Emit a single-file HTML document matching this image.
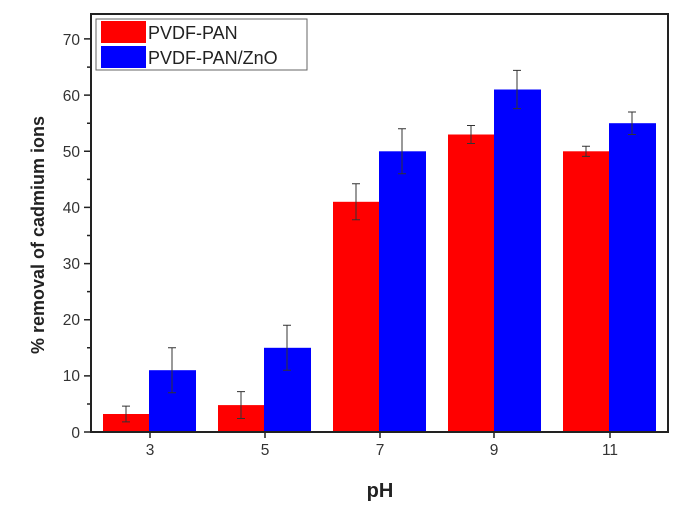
<!DOCTYPE html>
<html><head><style>
html,body{margin:0;padding:0;background:#fff;}
svg{display:block;font-family:"Liberation Sans",Arial,sans-serif;}
</style></head><body>
<svg width="692" height="511" viewBox="0 0 692 511" xmlns="http://www.w3.org/2000/svg">
<rect width="692" height="511" fill="#fff"/>
<g>
<rect x="103" y="414.0" width="46" height="18.0" fill="#ff0000"/>
<rect x="149" y="370.2" width="47" height="61.8" fill="#0000ff"/>
<rect x="218" y="405.1" width="46" height="26.9" fill="#ff0000"/>
<rect x="264" y="347.8" width="47" height="84.2" fill="#0000ff"/>
<rect x="333" y="201.8" width="46" height="230.2" fill="#ff0000"/>
<rect x="379" y="151.3" width="47" height="280.7" fill="#0000ff"/>
<rect x="448" y="134.5" width="46" height="297.5" fill="#ff0000"/>
<rect x="494" y="89.5" width="47" height="342.5" fill="#0000ff"/>
<rect x="563" y="151.3" width="46" height="280.7" fill="#ff0000"/>
<rect x="609" y="123.2" width="47" height="308.8" fill="#0000ff"/>
</g>
<g stroke="#333" stroke-width="1" fill="none">
<path d="M126 406.1V421.9M122 406.1H130M122 421.9H130"/>
<path d="M172 347.8V392.7M168 347.8H176M168 392.7H176"/>
<path d="M241 391.6V418.5M237 391.6H245M237 418.5H245"/>
<path d="M287 325.3V370.2M283 325.3H291M283 370.2H291"/>
<path d="M356 183.8V219.8M352 183.8H360M352 219.8H360"/>
<path d="M402 128.8V173.7M398 128.8H406M398 173.7H406"/>
<path d="M471 125.5V143.5M467 125.5H475M467 143.5H475"/>
<path d="M517 70.4V108.6M513 70.4H521M513 108.6H521"/>
<path d="M586 146.2V156.4M582 146.2H590M582 156.4H590"/>
<path d="M632 112.0V134.5M628 112.0H636M628 134.5H636"/>
</g>
<rect x="91" y="14" width="577" height="418" fill="none" stroke="#222" stroke-width="2"/>
<g stroke="#222" stroke-width="1.5">
<path d="M84 432H91M84 375.9H91M84 319.7H91M84 263.6H91M84 207.4H91M84 151.3H91M84 95.1H91M84 38.9H91"/>
<path d="M87 404H91M87 347.8H91M87 291.6H91M87 235.5H91M87 179.4H91M87 123.2H91M87 67.1H91"/>
<path d="M150 432V438M265 432V438M380 432V438M494 432V438M610 432V438"/>
</g>
<g fill="#333" font-size="15.5" text-anchor="end">
<text x="80" y="438">0</text>
<text x="80" y="381">10</text>
<text x="80" y="325">20</text>
<text x="80" y="269">30</text>
<text x="80" y="213">40</text>
<text x="80" y="157">50</text>
<text x="80" y="101">60</text>
<text x="80" y="45">70</text>
</g>
<g fill="#333" font-size="15.5" text-anchor="middle">
<text x="150" y="455">3</text>
<text x="265" y="455">5</text>
<text x="380" y="455">7</text>
<text x="494" y="455">9</text>
<text x="610" y="455">11</text>
</g>
<text x="380" y="497" font-size="20" font-weight="bold" text-anchor="middle" fill="#222">pH</text>
<text transform="translate(44,235) rotate(-90)" font-size="18" font-weight="bold" text-anchor="middle" fill="#222">% removal of cadmium ions</text>
<rect x="96" y="19" width="211" height="51" fill="#fff" stroke="#666" stroke-width="1"/>
<rect x="101" y="21" width="45" height="22" fill="#ff0000"/>
<rect x="101" y="46" width="45" height="22" fill="#0000ff"/>
<text x="148" y="39" font-size="18" fill="#222">PVDF-PAN</text>
<text x="148" y="64" font-size="18" fill="#222">PVDF-PAN/ZnO</text>
</svg>
</body></html>
